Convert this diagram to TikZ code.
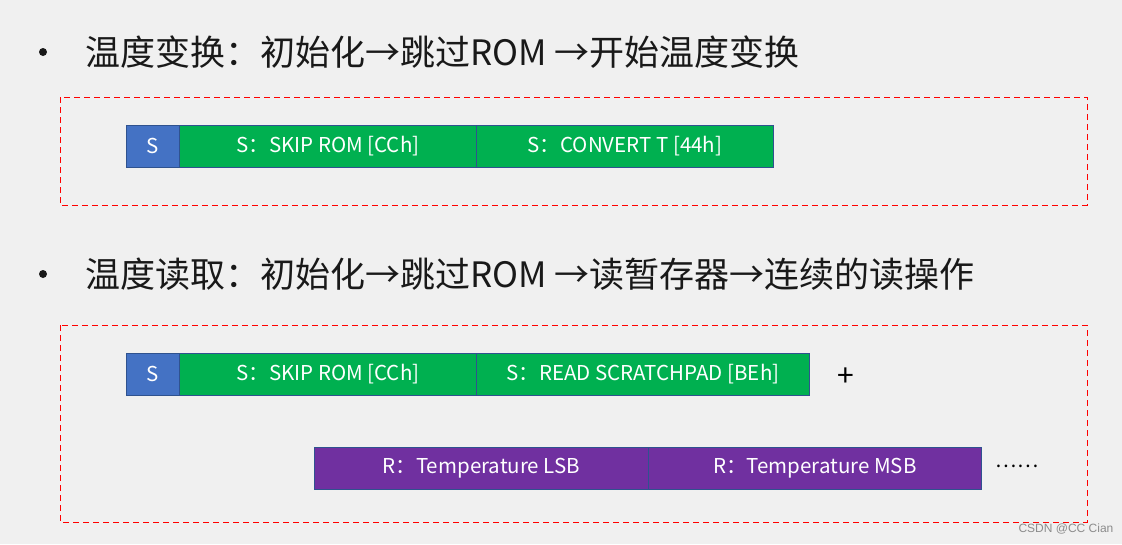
\documentclass[tikz,border=0pt]{standalone}
\usepackage{fontspec}
\setmainfont{Noto Sans CJK SC}
\newfontfamily\wm{Liberation Sans}
\definecolor{bg}{HTML}{F0F0F0}
\definecolor{cblue}{HTML}{4472C4}
\definecolor{cgreen}{HTML}{00B050}
\definecolor{cpurple}{HTML}{7030A0}
\definecolor{cedge}{HTML}{2F528F}
\definecolor{cred}{HTML}{FF0000}
\begin{document}
\begin{tikzpicture}[x=1pt,y=-1pt,
  frame/.style={draw=cred, dashed, dash pattern=on 6pt off 4pt, line width=0.9pt},
  cell/.style={draw=cedge, line width=0.8pt, text=white, inner sep=0pt, minimum height=42pt, anchor=north west, font=\fontsize{20.5}{24}\selectfont},
  title/.style={anchor=west, inner sep=0pt, font=\fontsize{35}{40}\selectfont, text=black!90},
  bullet/.style={circle, fill=black!90, inner sep=0pt, minimum size=8pt}
]
\fill[bg] (0,0) rectangle (1122,544);
\useasboundingbox (0,0) rectangle (1122,544);

% section 1
\node[bullet] (b1) at (43,52) {};
\node[title] (t1) at (85,52) {温度变换：初始化→跳过ROM →开始温度变换};
\draw[frame] (60,97) rectangle (1087,205);
\node[cell, fill=cblue, minimum width=53pt] (s1) at (126,125) {S};
\node[cell, fill=cgreen, minimum width=297pt] (skip1) at (179,125) {S：SKIP ROM [CCh]};
\node[cell, fill=cgreen, minimum width=297pt] (conv) at (476,125) {S：CONVERT T [44h]};

% section 2
\node[bullet] (b2) at (43,274) {};
\node[title] (t2) at (85,274) {温度读取：初始化→跳过ROM →读暂存器→连续的读操作};
\draw[frame] (60,325) rectangle (1087,522);
\node[cell, fill=cblue, minimum width=53pt] (s2) at (126,353) {S};
\node[cell, fill=cgreen, minimum width=297pt] (skip2) at (179,353) {S：SKIP ROM [CCh]};
\node[cell, fill=cgreen, minimum width=333pt] (read) at (476,353) {S：READ SCRATCHPAD [BEh]};
\node[font=\fontsize{30}{34}\selectfont, inner sep=0pt] (plus) at (846,377) {+};
\node[cell, fill=cpurple, minimum width=334pt] (lsb) at (314,447) {R：Temperature LSB};
\node[cell, fill=cpurple, minimum width=333pt] (msb) at (648,447) {R：Temperature MSB};
\node[font=\fontsize{20}{24}\selectfont, inner sep=0pt] (dots) at (1017,466) {……};

\node[font=\wm\fontsize{12}{14}\selectfont, text=black!45, inner sep=0pt] (wmk) at (1066,529) {CSDN @CC Cian};
\end{tikzpicture}
\end{document}
